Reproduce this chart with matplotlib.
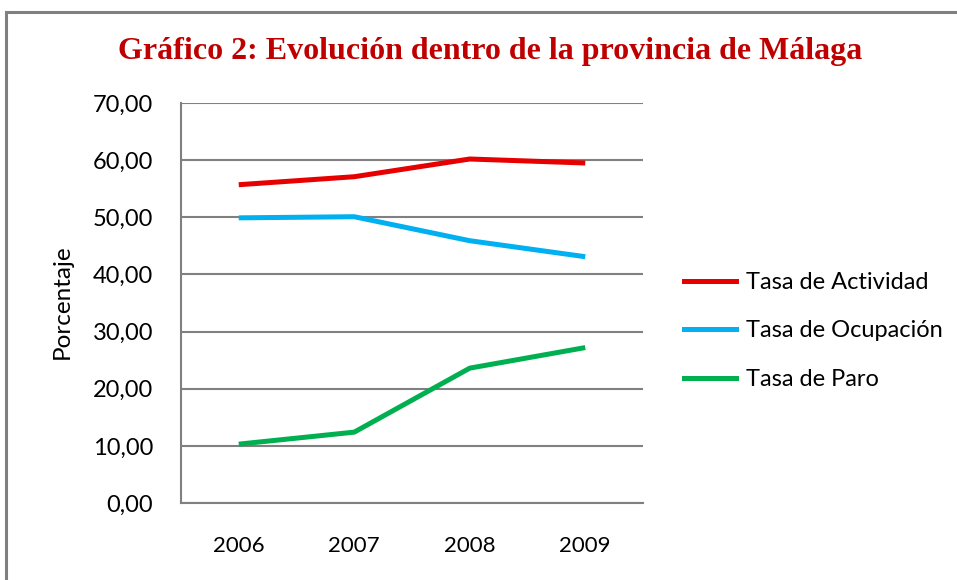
import matplotlib
matplotlib.use("Agg")
import matplotlib.pyplot as plt
from matplotlib.lines import Line2D
from matplotlib.patches import Rectangle

years = ["2006", "2007", "2008", "2009"]
actividad = [55.7, 57.1, 60.2, 59.5]
ocupacion = [49.9, 50.1, 45.9, 43.1]
paro = [10.3, 12.4, 23.6, 27.2]
series_names = ["Tasa de Actividad", "Tasa de Ocupación", "Tasa de Paro"]
colors = ["#E60000", "#00B0F0", "#00B050"]
yticks = [0, 10, 20, 30, 40, 50, 60, 70]

W, H = 957, 580
fig = plt.figure(figsize=(W / 100, H / 100), dpi=100)
fig.patch.set_facecolor("white")

# outer border
fig.add_artist(Rectangle((6 / W, -0.01), 1.1, 1 - 12 / H + 0.01, transform=fig.transFigure,
                         fill=False, edgecolor="#808080", linewidth=2.2))

ax = fig.add_axes([181 / W, 1 - 503 / H, (643 - 181) / W, (503 - 103) / H])
x = list(range(len(years)))
for vals, c in zip([actividad, ocupacion, paro], colors):
    ax.plot(x, vals, color=c, linewidth=3.6, solid_capstyle="butt")

ax.set_xlim(-0.5, 3.5)
ax.set_ylim(0, 70)
ax.set_yticks(yticks)
ax.set_yticklabels([f"{v:.2f}".replace(".", ",") for v in yticks])
ax.set_xticks(x)
ax.set_xticklabels(years)
ax.grid(axis="y", color="#808080", linewidth=1.5)
ax.set_axisbelow(True)
for s in ["top", "right"]:
    ax.spines[s].set_visible(False)
for s in ["left", "bottom"]:
    ax.spines[s].set_color("#808080")
    ax.spines[s].set_linewidth(1.5)
ax.tick_params(length=0, colors="black")
ax.tick_params(axis="y", pad=20, labelsize=17)
ax.tick_params(axis="x", pad=24, labelsize=16)
for t in ax.get_xticklabels() + ax.get_yticklabels():
    t.set_family(["Lato", "DejaVu Sans"])

fig.text(62 / W, 1 - 302 / H, "Porcentaje", rotation=90, ha="center", va="center",
         fontsize=17.5, family=["Lato", "DejaVu Sans"])

fig.text(490 / W, 1 - 52 / H, "Gráfico 2: Evolución dentro de la provincia de Málaga",
         ha="center", va="center", fontsize=23, fontweight="bold", color="#C00000",
         family=["Liberation Serif", "DejaVu Serif"])

handles = [Line2D([0], [0], color=c, linewidth=3.6) for c in colors]
leg = fig.legend(handles, series_names, loc="center left", bbox_to_anchor=(663 / W, 1 - 331 / H),
                 frameon=False, handlelength=2.2, handletextpad=0.42,
                 labelspacing=1.17, prop={"family": ["Lato", "DejaVu Sans"], "size": 17})

fig.savefig("out.png", dpi=100)
